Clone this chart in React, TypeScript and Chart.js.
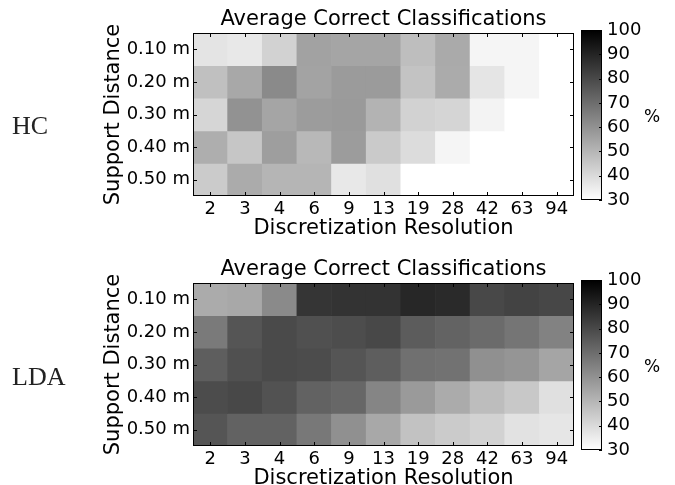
import React, { useEffect, useRef } from "react";
import { Chart, registerables } from "chart.js";

Chart.register(...registerables);

// ---------- data ----------
const xLabels = ["2", "3", "4", "6", "9", "13", "19", "28", "42", "63", "94"];
const yLabels = ["0.10 m", "0.20 m", "0.30 m", "0.40 m", "0.50 m"];

const hcRow010 = [37.4, 36.3, 42.4, 55.5, 54.7, 54.7, 47.8, 53.3, 32.7, 32.7, 28];
const hcRow020 = [47.3, 53.9, 62.1, 55.3, 57.5, 57.5, 46.5, 53.0, 37.1, 32.7, 28];
const hcRow030 = [41.3, 59.9, 54.7, 57.2, 57.7, 50.9, 42.4, 41.5, 33.3, 28, 28];
const hcRow040 = [52.2, 45.6, 56.6, 49.5, 57.2, 44.6, 39.6, 32.7, 28, 28, 28];
const hcRow050 = [44.3, 53.0, 50.3, 50.3, 36.3, 38.5, 28, 28, 28, 28, 28];

const ldaRow010 = [53.1, 53.9, 62.1, 85.5, 86.0, 86.0, 89.3, 88.5, 80.2, 81.6, 80.5];
const ldaRow020 = [66.5, 76.7, 79.7, 78.0, 78.9, 80.2, 74.7, 72.8, 70.6, 67.9, 64.3];
const ldaRow030 = [74.2, 78.0, 79.7, 79.1, 76.7, 74.2, 69.3, 68.7, 60.5, 59.1, 54.7];
const ldaRow040 = [79.1, 80.2, 77.5, 73.1, 71.7, 63.5, 57.7, 53.1, 48.1, 45.1, 38.5];
const ldaRow050 = [76.7, 73.1, 73.1, 67.1, 60.5, 53.9, 46.7, 44.3, 42.4, 38.0, 36.9];

const hcValues = [hcRow010, hcRow020, hcRow030, hcRow040, hcRow050];
const ldaValues = [ldaRow010, ldaRow020, ldaRow030, ldaRow040, ldaRow050];

const cbMin = 30;
const cbMax = 100;
const cbStep = 10;

const chartTitle = "Average Correct Classifications";
const xTitle = "Discretization Resolution";
const yTitle = "Support Distance";
const cbLabel = "%";

// ---------- helpers ----------
const FONT = "'DejaVu Sans', sans-serif";

function grayFor(v: number): string {
  const t = Math.min(1, Math.max(0, (v - cbMin) / (cbMax - cbMin)));
  const g = Math.round(255 * (1 - t));
  return `rgb(${g},${g},${g})`;
}

const frameTicks = {
  id: "frameTicks",
  afterDraw(chart: any, _args: any, opts: any) {
    const { ctx, chartArea: ca } = chart;
    const len = opts.len ?? 4;
    ctx.save();
    ctx.strokeStyle = "#000";
    ctx.lineWidth = 1;
    ctx.beginPath();
    if (opts.xTicks) {
      const xs = chart.scales.x;
      xs.ticks.forEach((_t: any, i: number) => {
        const px = Math.round(xs.getPixelForTick(i)) + 0.5;
        ctx.moveTo(px, ca.bottom);
        ctx.lineTo(px, ca.bottom - len);
        ctx.moveTo(px, ca.top);
        ctx.lineTo(px, ca.top + len);
      });
    }
    const ys = chart.scales.y;
    ys.ticks.forEach((_t: any, i: number) => {
      const py = Math.round(ys.getPixelForTick(i)) + 0.5;
      if (opts.leftTicks) {
        ctx.moveTo(ca.left, py);
        ctx.lineTo(ca.left + len, py);
      }
      ctx.moveTo(ca.right, py);
      ctx.lineTo(ca.right - len, py);
    });
    ctx.stroke();
    ctx.strokeRect(
      Math.round(ca.left) + 0.5,
      Math.round(ca.top) + 0.5,
      Math.round(ca.right - ca.left) - 1,
      Math.round(ca.bottom - ca.top) - 1
    );
    ctx.restore();
  },
};

function Heatmap({ values, top }: { values: number[][]; top: number }) {
  const ref = useRef<HTMLCanvasElement>(null);
  useEffect(() => {
    const chart = new Chart(ref.current!, {
      type: "bar",
      data: {
        labels: xLabels,
        datasets: values.map((row, i) => ({
          label: yLabels[i],
          data: row.map(() => [i, i + 1]),
          backgroundColor: row.map(grayFor),
          borderWidth: 0,
          barPercentage: 1,
          categoryPercentage: 1,
          grouped: false,
          xAxisID: "x",
          yAxisID: "y",
        })),
      } as any,
      plugins: [frameTicks],
      options: {
        animation: false,
        responsive: false,
        devicePixelRatio: 1,
        layout: { padding: { left: 0, top: 0, right: 1, bottom: 0 } },
        plugins: {
          legend: { display: false },
          tooltip: { enabled: false },
          title: { display: false },
          frameTicks: { xTicks: true, leftTicks: true, len: 4 },
        } as any,
        scales: {
          x: {
            type: "category",
            offset: true,
            grid: { display: false, drawTicks: false },
            border: { display: false },
            ticks: {
              font: { family: FONT, size: 18 },
              color: "#000",
              padding: 3,
              maxRotation: 0,
              autoSkip: false,
            },
            title: {
              display: true,
              text: xTitle,
              color: "#000",
              font: { family: FONT, size: 21 },
              padding: { top: 0, bottom: 1 },
            },
            afterFit: (s: any) => {
              s.height = 46;
            },
          },
          top: {
            type: "linear",
            position: "top",
            min: 0,
            max: 1,
            grid: { display: false, drawTicks: false },
            border: { display: false },
            ticks: { display: false },
            title: {
              display: true,
              text: chartTitle,
              color: "#000",
              font: { family: FONT, size: 21 },
              padding: { top: 7, bottom: 0 },
            },
            afterFit: (s: any) => {
              s.height = 33;
            },
          },
          y: {
            type: "linear",
            min: 0,
            max: yLabels.length,
            reverse: true,
            grid: { display: false, drawTicks: false },
            border: { display: false },
            afterBuildTicks: (s: any) => {
              s.ticks = yLabels.map((_l, i) => ({ value: i + 0.5 }));
            },
            ticks: {
              callback: (v: any) => yLabels[Math.floor(Number(v))],
              font: { family: FONT, size: 18 },
              color: "#000",
              padding: 3,
              autoSkip: false,
            },
            title: {
              display: true,
              text: yTitle,
              color: "#000",
              font: { family: FONT, size: 21 },
              padding: { top: 101, bottom: 0 },
            },
            afterFit: (s: any) => {
              s.width = 193;
            },
          },
        } as any,
      },
    });
    return () => chart.destroy();
  }, [values]);
  return (
    <canvas
      ref={ref}
      width={575}
      height={242}
      style={{ position: "absolute", left: 0, top, width: 575, height: 242 }}
    />
  );
}

function ColorBar({ top }: { top: number }) {
  const ref = useRef<HTMLCanvasElement>(null);
  useEffect(() => {
    const chart = new Chart(ref.current!, {
      type: "bar",
      data: {
        labels: [""],
        datasets: [
          {
            data: [[cbMin, cbMax]],
            backgroundColor: (c: any) => {
              const ys = c.chart.scales && c.chart.scales.y;
              if (!ys || !c.chart.chartArea) return "#888";
              const y0 = ys.getPixelForValue(cbMin);
              const y1 = ys.getPixelForValue(cbMax);
              if (!isFinite(y0) || !isFinite(y1) || y0 === y1) return "#888";
              const g = c.chart.ctx.createLinearGradient(0, y0, 0, y1);
              g.addColorStop(0, grayFor(cbMin));
              g.addColorStop(1, grayFor(cbMax));
              return g;
            },
            borderWidth: 0,
            barPercentage: 1,
            categoryPercentage: 1,
          },
        ],
      } as any,
      plugins: [frameTicks],
      options: {
        animation: false,
        responsive: false,
        devicePixelRatio: 1,
        layout: { padding: { left: 6, top: 30, right: 0, bottom: 42 } },
        plugins: {
          legend: { display: false },
          tooltip: { enabled: false },
          frameTicks: { xTicks: false, leftTicks: false, len: 3 },
        } as any,
        scales: {
          x: { display: false },
          y: {
            position: "right",
            min: cbMin,
            max: cbMax,
            grid: { display: false, drawTicks: false },
            border: { display: false },
            ticks: {
              stepSize: cbStep,
              autoSkip: false,
              font: { family: FONT, size: 18 },
              color: "#000",
              padding: 5,
            },
            afterFit: (s: any) => {
              s.width = 73;
            },
          },
        } as any,
      },
    });
    chart.update();
    return () => chart.destroy();
  }, []);
  return (
    <canvas
      ref={ref}
      width={100}
      height={242}
      style={{ position: "absolute", left: 575, top, width: 100, height: 242 }}
    />
  );
}

const sideLabel: React.CSSProperties = {
  position: "absolute",
  left: 12,
  fontFamily: "'Liberation Serif', serif",
  fontSize: 26,
  lineHeight: "26px",
  color: "#222",
  whiteSpace: "nowrap",
};

const pctLabel: React.CSSProperties = {
  position: "absolute",
  left: 644,
  fontFamily: FONT,
  fontSize: 17,
  lineHeight: "20px",
  color: "#000",
};

export default function App() {
  return (
    <div
      style={{
        position: "fixed",
        left: 0,
        top: 0,
        width: 675,
        height: 485,
        overflow: "hidden",
        background: "#fff",
      }}
    >
      <Heatmap values={hcValues} top={0} />
      <ColorBar top={0} />
      <Heatmap values={ldaValues} top={250} />
      <ColorBar top={250} />
      <div style={{ ...sideLabel, top: 113 }}>HC</div>
      <div style={{ ...sideLabel, top: 364 }}>LDA</div>
      <div style={{ ...pctLabel, top: 106 }}>{cbLabel}</div>
      <div style={{ ...pctLabel, top: 356 }}>{cbLabel}</div>
    </div>
  );
}
